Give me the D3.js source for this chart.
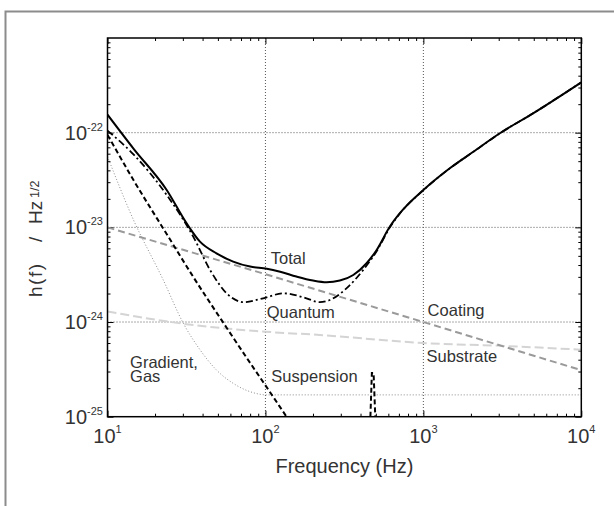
<!DOCTYPE html>
<html>
<head>
<meta charset="utf-8">
<script src="https://cdn.jsdelivr.net/npm/d3@7"></script>
<style>
body { margin: 0; background: #fff; }
svg text { font-family: "Liberation Sans", Arial, sans-serif; fill: #333; }
</style>
</head>
<body>
<svg id="chart" width="614" height="506"></svg>
<script>
// noise curves (frequency in Hz, strain in 1/sqrt(Hz))
const totalF = [10, 14.6, 23.7, 31.7, 38.5, 49, 62.5, 80, 102, 124, 157, 200, 244, 296, 360, 437, 506, 614, 710, 1000, 1470, 2070, 3050, 4950, 10000];
const totalH = [1.55e-22, 6.8e-23, 2.48e-23, 1.10e-23, 7.06e-24, 5.32e-24, 4.35e-24, 3.85e-24, 3.66e-24, 3.40e-24, 3.02e-24, 2.74e-24, 2.63e-24, 2.74e-24, 3.14e-24, 4.18e-24, 5.77e-24, 1.02e-23, 1.41e-23, 2.48e-23, 4.21e-23, 6.28e-23, 9.86e-23, 1.60e-22, 3.40e-22];

const quantumF = [10, 14.6, 23.7, 34.9, 44.6, 56.8, 69, 72.3, 96.8, 130, 173, 221, 256, 327, 416, 506, 614, 710, 1000, 1470, 2070, 3050, 4950, 10000];
const quantumH = [1.05e-22, 5.9e-23, 2.2e-23, 7.98e-24, 3.55e-24, 2.01e-24, 1.64e-24, 1.62e-24, 1.78e-24, 2.01e-24, 1.83e-24, 1.62e-24, 1.71e-24, 2.28e-24, 3.55e-24, 5.6e-24, 1.0e-23, 1.40e-23, 2.47e-23, 4.2e-23, 6.27e-23, 9.85e-23, 1.6e-22, 3.4e-22];

const suspensionF = [10, 14.6, 23.7, 34.9, 56.8, 83.8, 102, 136, 158];
const suspensionH = [9.5e-23, 3.16e-23, 8.5e-24, 3.0e-24, 8.7e-25, 3.3e-25, 2.04e-25, 1.0e-25, 6.9e-26];

const violinF = [462, 472, 484, 496];
const violinH = [1.0e-25, 2.9e-25, 2.9e-25, 1.0e-25];

const gradientF = [10, 14.6, 22.5, 30.2, 38.5, 49.1, 62.5, 79.8, 102, 200, 1000, 10000];
const gradientH = [5.6e-23, 1.2e-23, 2.8e-24, 9.7e-25, 5.1e-25, 3.1e-25, 2.25e-25, 1.84e-25, 1.7e-25, 1.7e-25, 1.7e-25, 1.7e-25];

const coatingF = [10, 100, 1000, 10000];
const coatingH = [1.0e-23, 3.2e-24, 1.0e-24, 3.1e-25];

const substrateF = [10, 31.6, 100, 221, 1000, 3160, 10000];
const substrateH = [1.29e-24, 9.5e-25, 7.9e-25, 7.3e-25, 6.0e-25, 5.6e-25, 5.1e-25];

const xMajor = [10, 100, 1000, 10000];
const xMajorExp = ["1", "2", "3", "4"];
const yMajor = [1e-22, 1e-23, 1e-24, 1e-25];
const yMajorExp = ["-22", "-23", "-24", "-25"];

const labels = [
    {text: "Total", f: 108, h: 4.09e-24},
    {text: "Quantum", f: 102, h: 1.09e-24},
    {text: "Coating", f: 1064, h: 1.16e-24},
    {text: "Substrate", f: 1047, h: 3.81e-25},
    {text: "Suspension", f: 109, h: 2.34e-25},
    {text: "Gradient,", f: 13.9, h: 3.24e-25},
    {text: "Gas", f: 13.9, h: 2.31e-25}
];

const plotLeft = 107.5, plotRight = 581.3, plotTop = 38, plotBottom = 416.7;

const svg = d3.select("#chart");

// outer frame
svg.append("rect")
    .attr("x", 5.5).attr("y", 11.5)
    .attr("width", 700).attr("height", 600)
    .attr("fill", "none")
    .attr("stroke", "#8c8c8c")
    .attr("stroke-width", 2);

const x = d3.scaleLog().domain([10, 10000]).range([plotLeft, plotRight]);
const y = d3.scaleLog().domain([1e-25, 1e-21]).range([plotBottom, plotTop]);

const xMinor = x.ticks().filter(v => !xMajor.includes(v));
const yMinor = y.ticks().filter(v => Math.abs(Math.log10(v) - Math.round(Math.log10(v))) > 1e-6);

// grid
svg.append("g")
    .selectAll("line")
    .data([100, 1000])
    .join("line")
    .attr("x1", d => x(d)).attr("x2", d => x(d))
    .attr("y1", plotTop).attr("y2", plotBottom)
    .attr("stroke", "#555").attr("stroke-width", 1)
    .attr("stroke-dasharray", "1,2");
svg.append("g")
    .selectAll("line")
    .data([1e-22, 1e-23, 1e-24])
    .join("line")
    .attr("x1", plotLeft).attr("x2", plotRight)
    .attr("y1", d => y(d)).attr("y2", d => y(d))
    .attr("stroke", "#555").attr("stroke-width", 1)
    .attr("stroke-dasharray", "1,2");

// ticks on all four sides, pointing inward
function ticks(axis, transform, values, size) {
    svg.append("g")
        .attr("transform", transform)
        .call(axis.tickValues(values).tickSize(-size).tickFormat(""))
        .call(g => g.select(".domain").remove())
        .call(g => g.selectAll("line").attr("stroke", "#000"));
}
ticks(d3.axisBottom(x), `translate(0,${plotBottom})`, xMinor, 3);
ticks(d3.axisBottom(x), `translate(0,${plotBottom})`, xMajor, 6);
ticks(d3.axisTop(x), `translate(0,${plotTop})`, xMinor, 3);
ticks(d3.axisTop(x), `translate(0,${plotTop})`, xMajor, 6);
ticks(d3.axisLeft(y), `translate(${plotLeft},0)`, yMinor, 3);
ticks(d3.axisLeft(y), `translate(${plotLeft},0)`, yMajor, 6);
ticks(d3.axisRight(y), `translate(${plotRight},0)`, yMinor, 3);
ticks(d3.axisRight(y), `translate(${plotRight},0)`, yMajor, 6);

// tick labels
const xl = svg.append("g")
    .selectAll("text")
    .data(xMajor)
    .join("text")
    .attr("x", d => x(d))
    .attr("y", 443.3)
    .attr("text-anchor", "middle")
    .attr("font-size", 20);
xl.append("tspan").text("10");
xl.append("tspan").attr("dy", -10).attr("font-size", 11).text((d, i) => xMajorExp[i]);

const yl = svg.append("g")
    .selectAll("text")
    .data(yMajor)
    .join("text")
    .attr("x", 103)
    .attr("y", d => y(d) + 7)
    .attr("text-anchor", "end")
    .attr("font-size", 20);
yl.append("tspan").text("10");
yl.append("tspan").attr("dy", -9).attr("font-size", 11).text((d, i) => yMajorExp[i]);

// curves
svg.append("clipPath").attr("id", "clip")
    .append("rect")
    .attr("x", plotLeft).attr("y", plotTop)
    .attr("width", plotRight - plotLeft).attr("height", plotBottom - plotTop);
const plot = svg.append("g").attr("clip-path", "url(#clip)");

function curve(fs, hs, stroke, width, dash, smooth) {
    const line = d3.line()
        .x(d => x(d[0]))
        .y(d => y(d[1]))
        .curve(smooth ? d3.curveMonotoneX : d3.curveLinear);
    plot.append("path")
        .datum(fs.map((f, i) => [f, hs[i]]))
        .attr("d", line)
        .attr("fill", "none")
        .attr("stroke", stroke)
        .attr("stroke-width", width)
        .attr("stroke-dasharray", dash);
}
curve(substrateF, substrateH, "#d4d4d4", 2, "9,4", true);
curve(coatingF, coatingH, "#9a9a9a", 2, "7,4", false);
curve(gradientF, gradientH, "#8c8c8c", 1, "1,2", true);
curve(suspensionF, suspensionH, "#000", 2, "5,3", true);
curve(violinF, violinH, "#000", 2, "5,3", false);
curve(quantumF, quantumH, "#000", 1.8, "7,3,2,3", true);
curve(totalF, totalH, "#000", 2, null, true);

// plot box
svg.append("rect")
    .attr("x", plotLeft).attr("y", plotTop)
    .attr("width", plotRight - plotLeft).attr("height", plotBottom - plotTop)
    .attr("fill", "none")
    .attr("stroke", "#000")
    .attr("stroke-width", 1.5);

// curve labels
svg.append("g")
    .selectAll("text")
    .data(labels)
    .join("text")
    .attr("x", d => x(d.f))
    .attr("y", d => y(d.h))
    .attr("font-size", 16.5)
    .text(d => d.text);

// axis titles
svg.append("text")
    .attr("x", (plotLeft + plotRight) / 2)
    .attr("y", 473)
    .attr("text-anchor", "middle")
    .attr("font-size", 20)
    .text("Frequency (Hz)");

const yt = svg.append("g").attr("transform", "translate(42,297) rotate(-90)");
yt.append("text").attr("x", 0).attr("font-size", 19).attr("letter-spacing", 1.5).text("h(f)");
yt.append("text").attr("x", 55).attr("font-size", 19).text("/");
yt.append("text").attr("x", 73).attr("font-size", 19).text("Hz");
yt.append("text").attr("x", 99).attr("y", -3).attr("font-size", 12.5).text("1/2");
</script>
</body>
</html>
